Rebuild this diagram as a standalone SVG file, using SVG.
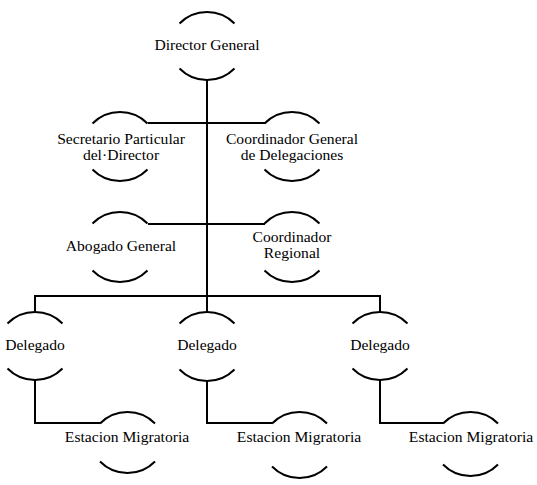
<svg xmlns="http://www.w3.org/2000/svg" width="537" height="485" viewBox="0 0 537 485">
<style>
.arc{fill:none;stroke:#000;stroke-width:2}
.ln{fill:none;stroke:#000;stroke-width:2}
text{font-family:"Liberation Serif",serif;font-size:15.6px;fill:#000;text-anchor:middle}
</style>
<rect width="537" height="485" fill="#fff"/>
<g id="connectors">
<path class="ln" d="M207,80 V296"/>
<path class="ln" d="M148,123 H265"/>
<path class="ln" d="M148,224 H265"/>
<path class="ln" d="M35,312 V296 H380 V312"/>
<path class="ln" d="M207,296 V312"/>
<path class="ln" d="M35,380 V423 H100"/>
<path class="ln" d="M207,380 V423 H272"/>
<path class="ln" d="M380,380 V423 H443"/>
</g>
<g id="director">
<path class="arc" d="M179.5,23.5 A38.6,38.6 0 0 1 234.5,23.5"/>
<path class="arc" d="M179.5,68.5 A38.6,38.6 0 0 0 234.5,68.5"/>
<text x="207" y="50">Director General</text>
</g>
<g id="secretario">
<path class="arc" d="M92.5,123.5 A38.6,38.6 0 0 1 147.5,123.5"/>
<path class="arc" d="M92.5,169.5 A38.6,38.6 0 0 0 147.5,169.5"/>
<text x="121" y="144">Secretario Particular</text>
<text x="121" y="160">del·Director</text>
</g>
<g id="coord-general">
<path class="arc" d="M264.5,123.5 A38.6,38.6 0 0 1 319.5,123.5"/>
<path class="arc" d="M264.5,169.5 A38.6,38.6 0 0 0 319.5,169.5"/>
<text x="292" y="144">Coordinador General</text>
<text x="292" y="160">de Delegaciones</text>
</g>
<g id="abogado">
<path class="arc" d="M92.5,223.5 A38.6,38.6 0 0 1 147.5,223.5"/>
<path class="arc" d="M92.5,270.5 A38.6,38.6 0 0 0 147.5,270.5"/>
<text x="121" y="251">Abogado General</text>
</g>
<g id="coord-regional">
<path class="arc" d="M264.5,223.5 A38.6,38.6 0 0 1 319.5,223.5"/>
<path class="arc" d="M264.5,270.5 A38.6,38.6 0 0 0 319.5,270.5"/>
<text x="292" y="242">Coordinador</text>
<text x="292" y="258">Regional</text>
</g>
<g id="delegado1">
<path class="arc" d="M7.5,323.5 A38.6,38.6 0 0 1 62.5,323.5"/>
<path class="arc" d="M7.5,368.5 A38.6,38.6 0 0 0 62.5,368.5"/>
<text x="35" y="350">Delegado</text>
</g>
<g id="delegado2">
<path class="arc" d="M179.5,323.5 A38.6,38.6 0 0 1 234.5,323.5"/>
<path class="arc" d="M179.5,369.5 A38.6,38.6 0 0 0 234.5,369.5"/>
<text x="207" y="350">Delegado</text>
</g>
<g id="delegado3">
<path class="arc" d="M352.5,323.5 A38.6,38.6 0 0 1 407.5,323.5"/>
<path class="arc" d="M352.5,368.5 A38.6,38.6 0 0 0 407.5,368.5"/>
<text x="380" y="350">Delegado</text>
</g>
<g id="estacion1">
<path class="arc" d="M100,423.5 A38.6,38.6 0 0 1 155,423.5"/>
<path class="arc" d="M100,461.5 A38.6,38.6 0 0 0 155,461.5"/>
<text x="127" y="442">Estacion Migratoria</text>
</g>
<g id="estacion2">
<path class="arc" d="M272,423.5 A38.6,38.6 0 0 1 327,423.5"/>
<path class="arc" d="M272,466.5 A38.6,38.6 0 0 0 327,466.5"/>
<text x="299" y="442">Estacion Migratoria</text>
</g>
<g id="estacion3">
<path class="arc" d="M443,423.5 A38.6,38.6 0 0 1 498,423.5"/>
<path class="arc" d="M443,464.5 A38.6,38.6 0 0 0 498,464.5"/>
<text x="471" y="442">Estacion Migratoria</text>
</g>
</svg>
